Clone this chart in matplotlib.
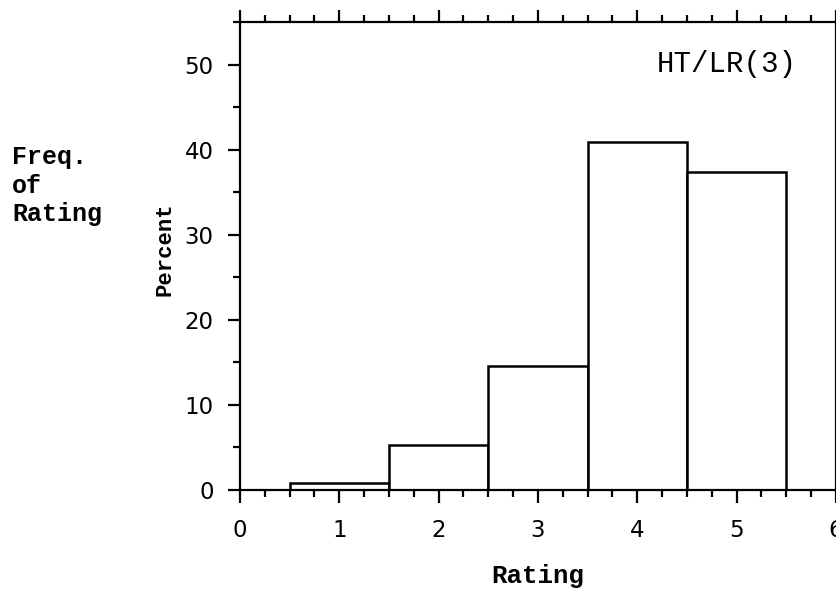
import numpy as np
import matplotlib.pyplot as plt
from matplotlib.ticker import MultipleLocator

# Rating histogram values (percent of responses per rating)
ratings = [1, 2, 3, 4, 5]
percent = [0.8, 5.3, 14.6, 40.9, 37.4]
x_ticks = [0, 1, 2, 3, 4, 5, 6]
y_ticks = [0, 10, 20, 30, 40, 50]
panel_label = "HT/LR(3)"

mono = "Liberation Mono"
sans = "DejaVu Sans"

fig = plt.figure(figsize=(8.37, 5.97), dpi=100)
ax = fig.add_axes([0.2867, 0.1792, 0.7121, 0.7838])

ax.bar(ratings, percent, width=1.0, color="white", edgecolor="black",
       linewidth=1.8, zorder=2)

ax.set_xlim(0, 6)
ax.set_ylim(0, 55)
ax.set_xticks(x_ticks)
ax.set_yticks(y_ticks)
ax.xaxis.set_minor_locator(MultipleLocator(0.25))
ax.yaxis.set_minor_locator(MultipleLocator(5))

ax.tick_params(which="both", direction="out", top=True, right=True,
               width=1.6, labelsize=16.5)
ax.tick_params(which="major", length=9)
ax.tick_params(which="minor", length=5)
ax.tick_params(axis="x", labeltop=False, pad=12)
ax.tick_params(axis="y", labelright=False, pad=10)
for lab in ax.get_xticklabels() + ax.get_yticklabels():
    lab.set_family(sans)

for sp in ax.spines.values():
    sp.set_linewidth(1.6)

ax.set_xlabel("Rating", family=mono, fontweight="bold", fontsize=18.5,
              labelpad=16)
ax.set_ylabel("Percent", family=mono, fontweight="bold", fontsize=16,
              labelpad=8)
ax.yaxis.set_label_coords(-0.108, 0.515)

ax.text(0.9346, 0.91, panel_label, transform=ax.transAxes, family=mono,
        fontsize=21, ha="right", va="center")

fig.text(12 / 837, 1 - 145 / 597, "Freq.\nof\nRating", family=mono,
         fontweight="bold", fontsize=18, ha="left", va="top",
         linespacing=1.25)

fig.savefig("out.png", dpi=100)
